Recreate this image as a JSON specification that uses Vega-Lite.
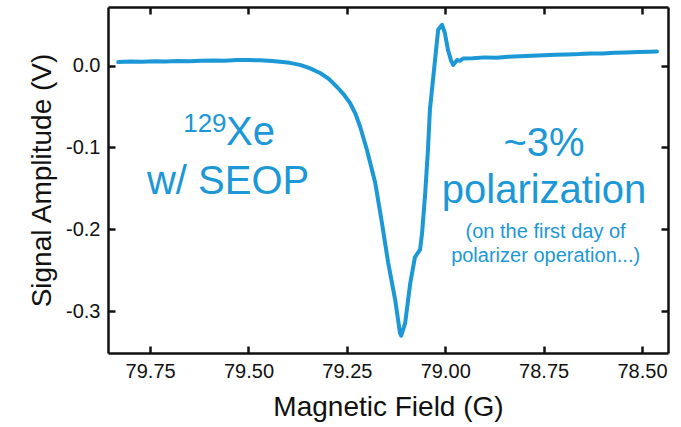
{
  "$schema": "https://vega.github.io/schema/vega-lite/v6.json",
  "width": 560,
  "height": 346,
  "autosize": {"type": "none"},
  "padding": {"left": 108, "top": 7, "right": 13, "bottom": 74},
  "background": "white",
  "config": {
    "view": {"stroke": null},
    "font": "Liberation Sans"
  },
  "datasets": {
    "curve": [
      {"field": 79.831, "signal": 0.0045},
      {"field": 79.80, "signal": 0.0052},
      {"field": 79.77, "signal": 0.0049},
      {"field": 79.74, "signal": 0.0055},
      {"field": 79.71, "signal": 0.0051},
      {"field": 79.68, "signal": 0.0058},
      {"field": 79.65, "signal": 0.0056},
      {"field": 79.62, "signal": 0.0061},
      {"field": 79.59, "signal": 0.0064},
      {"field": 79.56, "signal": 0.0062},
      {"field": 79.53, "signal": 0.0069},
      {"field": 79.50, "signal": 0.0070},
      {"field": 79.47, "signal": 0.0066},
      {"field": 79.44, "signal": 0.0058},
      {"field": 79.42, "signal": 0.0049},
      {"field": 79.395, "signal": 0.0035},
      {"field": 79.369, "signal": 0.0010},
      {"field": 79.345, "signal": -0.0030},
      {"field": 79.318, "signal": -0.0089},
      {"field": 79.296, "signal": -0.0160},
      {"field": 79.275, "signal": -0.0260},
      {"field": 79.258, "signal": -0.0350},
      {"field": 79.242, "signal": -0.0456},
      {"field": 79.228, "signal": -0.0590},
      {"field": 79.216, "signal": -0.0750},
      {"field": 79.199, "signal": -0.1030},
      {"field": 79.178, "signal": -0.1430},
      {"field": 79.161, "signal": -0.1920},
      {"field": 79.145, "signal": -0.2410},
      {"field": 79.127, "signal": -0.2870},
      {"field": 79.115, "signal": -0.3270},
      {"field": 79.112, "signal": -0.3300},
      {"field": 79.102, "signal": -0.3150},
      {"field": 79.089, "signal": -0.2660},
      {"field": 79.077, "signal": -0.2340},
      {"field": 79.064, "signal": -0.2250},
      {"field": 79.059, "signal": -0.2050},
      {"field": 79.051, "signal": -0.1560},
      {"field": 79.044, "signal": -0.1030},
      {"field": 79.039, "signal": -0.0540},
      {"field": 79.026, "signal": 0.0070},
      {"field": 79.018, "signal": 0.0440},
      {"field": 79.008, "signal": 0.0500},
      {"field": 79.001, "signal": 0.0400},
      {"field": 78.993, "signal": 0.0190},
      {"field": 78.985, "signal": 0.0060},
      {"field": 78.980, "signal": 0.0010},
      {"field": 78.970, "signal": 0.0070},
      {"field": 78.963, "signal": 0.0060},
      {"field": 78.955, "signal": 0.0088},
      {"field": 78.93, "signal": 0.0092},
      {"field": 78.90, "signal": 0.0102},
      {"field": 78.87, "signal": 0.0098},
      {"field": 78.84, "signal": 0.0110},
      {"field": 78.81, "signal": 0.0115},
      {"field": 78.78, "signal": 0.0122},
      {"field": 78.75, "signal": 0.0128},
      {"field": 78.72, "signal": 0.0133},
      {"field": 78.69, "signal": 0.0138},
      {"field": 78.66, "signal": 0.0142},
      {"field": 78.63, "signal": 0.0150},
      {"field": 78.60, "signal": 0.0148},
      {"field": 78.57, "signal": 0.0158},
      {"field": 78.54, "signal": 0.0162},
      {"field": 78.51, "signal": 0.0168},
      {"field": 78.48, "signal": 0.0172},
      {"field": 78.462, "signal": 0.0174}
    ],
    "bigText": [
      {"field": 79.552, "signal": -0.1568, "label": "w/ SEOP"},
      {"field": 78.749, "signal": -0.111, "label": "~3%"},
      {"field": 78.749, "signal": -0.168, "label": "polarization"}
    ],
    "xeText": [
      {"field": 79.557, "signal": -0.0969, "label": "Xe"}
    ],
    "supText": [
      {"field": 79.666, "signal": -0.0807, "label": "129"}
    ],
    "smallText": [
      {"field": 78.745, "signal": -0.2106, "label": "(on the first day of"},
      {"field": 78.745, "signal": -0.2396, "label": "polarizer operation...)"}
    ]
  },
  "resolve": {"axis": {"x": "independent", "y": "independent"}},
  "layer": [
    {
      "data": {"name": "curve"},
      "mark": {"type": "line", "color": "#1b98d5", "strokeWidth": 4, "strokeJoin": "round", "strokeCap": "round"},
      "encoding": {
        "x": {
          "field": "field", "type": "quantitative",
          "scale": {"domain": [78.434, 79.857], "reverse": true, "nice": false, "zero": false},
          "axis": {
            "orient": "bottom",
            "values": [79.75, 79.5, 79.25, 79.0, 78.75, 78.5],
            "format": ".2f",
            "grid": false,
            "domainColor": "#111111", "domainWidth": 2.5,
            "tickColor": "#111111", "tickWidth": 2.5, "tickSize": -7,
            "labelColor": "#111111", "labelFont": "Liberation Sans", "labelFontSize": 20,
            "labelPadding": 15,
            "title": "Magnetic Field (G)",
            "titleFont": "Liberation Sans", "titleFontSize": 28, "titleFontWeight": "normal", "titleColor": "#111111",
            "titlePadding": 12
          }
        },
        "y": {
          "field": "signal", "type": "quantitative",
          "scale": {"domain": [-0.3513, 0.0718], "nice": false, "zero": false},
          "axis": {
            "orient": "left",
            "values": [0, -0.1, -0.2, -0.3],
            "format": ".1f",
            "labelExpr": "replace(datum.label, '\u2212', '-')",
            "grid": false,
            "domainColor": "#111111", "domainWidth": 2.5,
            "tickColor": "#111111", "tickWidth": 2.5, "tickSize": -7,
            "labelColor": "#111111", "labelFont": "Liberation Sans", "labelFontSize": 20,
            "labelPadding": 15,
            "title": "Signal Amplitude (V)",
            "titleFont": "Liberation Sans", "titleFontSize": 28, "titleFontWeight": "normal", "titleColor": "#111111",
            "titlePadding": 9
          }
        }
      }
    },
    {
      "data": {"name": "curve"},
      "mark": {"type": "line", "strokeOpacity": 0},
      "encoding": {
        "x": {
          "field": "field", "type": "quantitative",
          "scale": {"domain": [78.434, 79.857], "reverse": true, "nice": false, "zero": false},
          "axis": {"orient": "top", "values": [79.75, 79.5, 79.25, 79.0, 78.75, 78.5], "grid": false,
            "domainColor": "#111111", "domainWidth": 2.5,
            "tickColor": "#111111", "tickWidth": 2.5, "tickSize": -7,
            "labels": false, "title": null}
        },
        "y": {
          "field": "signal", "type": "quantitative",
          "scale": {"domain": [-0.3513, 0.0718], "nice": false, "zero": false},
          "axis": {"orient": "right", "values": [0, -0.1, -0.2, -0.3], "grid": false,
            "domainColor": "#111111", "domainWidth": 2.5,
            "tickColor": "#111111", "tickWidth": 2.5, "tickSize": -7,
            "labels": false, "title": null}
        }
      }
    },
    {
      "data": {"name": "xeText"},
      "mark": {"type": "text", "align": "left", "baseline": "alphabetic", "fontSize": 40, "color": "#1b98d5", "font": "Liberation Sans"},
      "encoding": {
        "x": {"field": "field", "type": "quantitative", "scale": {"domain": [78.434, 79.857], "reverse": true, "nice": false, "zero": false},
          "axis": {"orient": "bottom", "values": [79.75], "grid": false, "domain": false, "labels": false, "title": null, "tickOpacity": 0}},
        "y": {"field": "signal", "type": "quantitative", "scale": {"domain": [-0.3513, 0.0718], "nice": false, "zero": false},
          "axis": {"orient": "left", "values": [0], "grid": false, "domain": false, "labels": false, "title": null, "tickOpacity": 0}},
        "text": {"field": "label"}
      }
    },
    {
      "data": {"name": "supText"},
      "mark": {"type": "text", "align": "left", "baseline": "alphabetic", "fontSize": 26, "color": "#1b98d5", "font": "Liberation Sans"},
      "encoding": {
        "x": {"field": "field", "type": "quantitative", "scale": {"domain": [78.434, 79.857], "reverse": true, "nice": false, "zero": false},
          "axis": {"orient": "bottom", "values": [79.75], "grid": false, "domain": false, "labels": false, "title": null, "tickOpacity": 0}},
        "y": {"field": "signal", "type": "quantitative", "scale": {"domain": [-0.3513, 0.0718], "nice": false, "zero": false},
          "axis": {"orient": "left", "values": [0], "grid": false, "domain": false, "labels": false, "title": null, "tickOpacity": 0}},
        "text": {"field": "label"}
      }
    },
    {
      "data": {"name": "bigText"},
      "mark": {"type": "text", "align": "center", "baseline": "alphabetic", "fontSize": 40, "color": "#1b98d5", "font": "Liberation Sans"},
      "encoding": {
        "x": {"field": "field", "type": "quantitative", "scale": {"domain": [78.434, 79.857], "reverse": true, "nice": false, "zero": false},
          "axis": {"orient": "bottom", "values": [79.75], "grid": false, "domain": false, "labels": false, "title": null, "tickOpacity": 0}},
        "y": {"field": "signal", "type": "quantitative", "scale": {"domain": [-0.3513, 0.0718], "nice": false, "zero": false},
          "axis": {"orient": "left", "values": [0], "grid": false, "domain": false, "labels": false, "title": null, "tickOpacity": 0}},
        "text": {"field": "label"}
      }
    },
    {
      "data": {"name": "smallText"},
      "mark": {"type": "text", "align": "center", "baseline": "alphabetic", "fontSize": 20, "color": "#1b98d5", "font": "Liberation Sans"},
      "encoding": {
        "x": {"field": "field", "type": "quantitative", "scale": {"domain": [78.434, 79.857], "reverse": true, "nice": false, "zero": false},
          "axis": {"orient": "bottom", "values": [79.75], "grid": false, "domain": false, "labels": false, "title": null, "tickOpacity": 0}},
        "y": {"field": "signal", "type": "quantitative", "scale": {"domain": [-0.3513, 0.0718], "nice": false, "zero": false},
          "axis": {"orient": "left", "values": [0], "grid": false, "domain": false, "labels": false, "title": null, "tickOpacity": 0}},
        "text": {"field": "label"}
      }
    }
  ]
}
